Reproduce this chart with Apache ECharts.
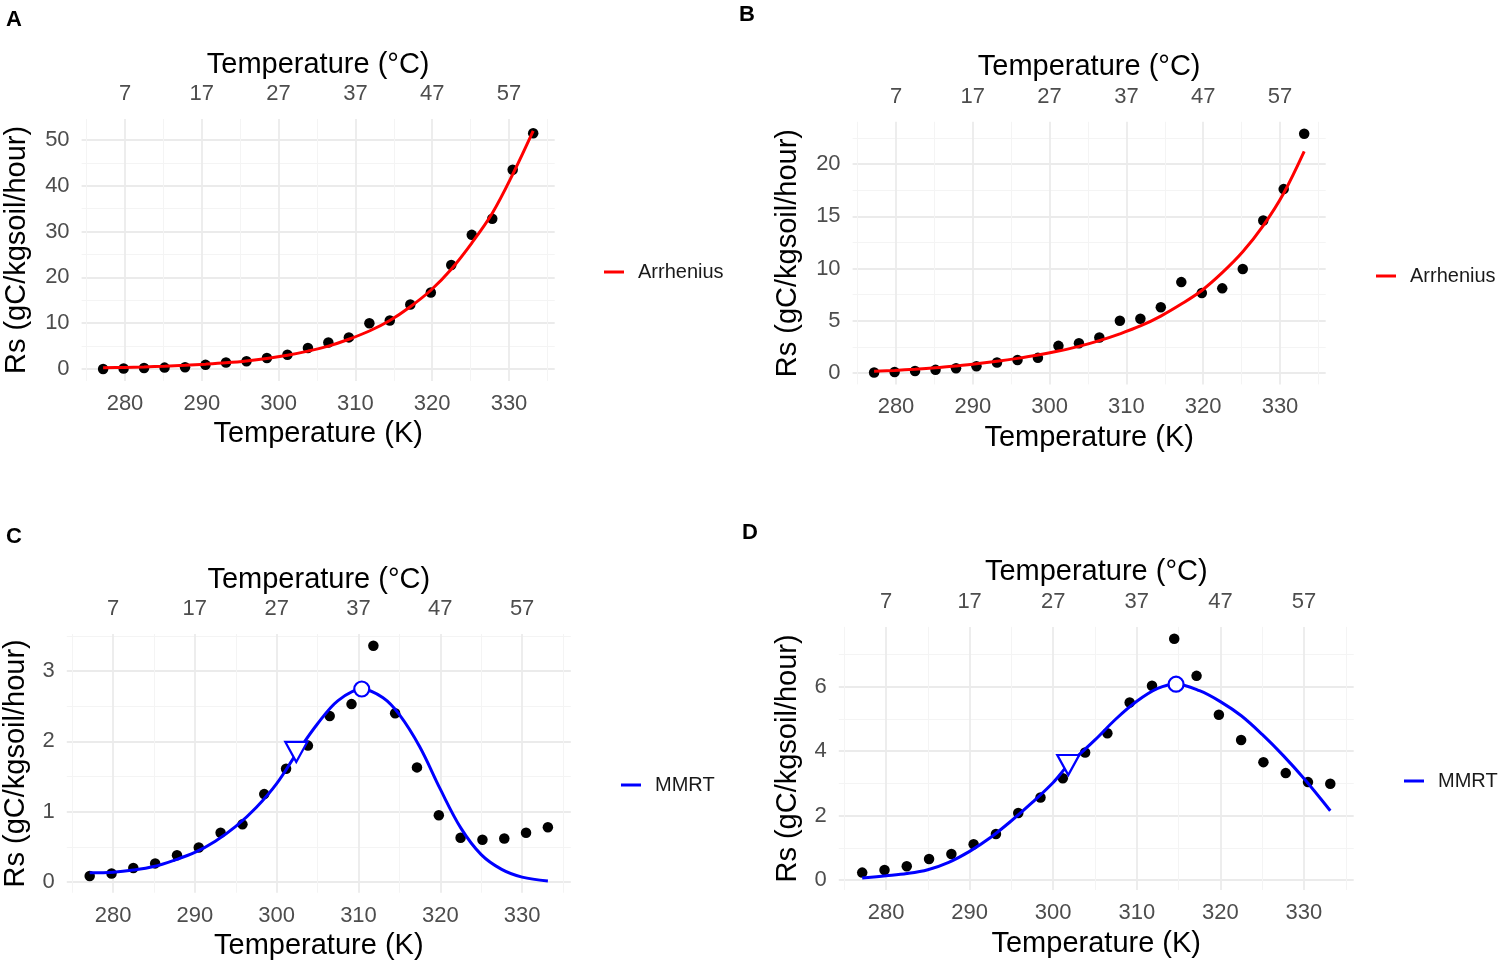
<!DOCTYPE html>
<html>
<head>
<meta charset="utf-8">
<script src="https://cdn.jsdelivr.net/npm/echarts@6/dist/echarts.min.js"></script>
<style>
html, body { margin: 0; background: #fff; }
#main { width: 1500px; height: 965px; }
</style>
</head>
<body>
<div id="main"></div>
<script>
// Measured temperatures (K)
var tempK = [277.15, 279.82, 282.48, 285.15, 287.82, 290.48, 293.15, 295.82, 298.48, 301.15, 303.82,
	306.48, 309.15, 311.82, 314.48, 317.15, 319.82, 322.48, 325.15, 327.82, 330.48, 333.15];

// Panel A: observed Rs and Arrhenius fit
var rsA = [0.0, 0.1, 0.2, 0.3, 0.4, 0.9, 1.4, 1.7, 2.4, 3.1, 4.6, 5.8, 6.9, 10.0, 10.6, 14.1, 16.7, 22.7, 29.3, 32.8, 43.5, 51.5];
var fitA = [0.25, 0.35, 0.45, 0.6, 0.8, 1.05, 1.35, 1.75, 2.3, 3.0, 3.9, 5.0, 6.5, 8.3, 10.6, 13.6, 17.2, 21.8, 27.5, 34.0, 42.5, 52.0];

// Panel B: observed Rs and Arrhenius fit
var rsB = [0.05, 0.1, 0.2, 0.3, 0.45, 0.65, 1.0, 1.25, 1.45, 2.6, 2.85, 3.4, 5.0, 5.2, 6.3, 8.7, 7.65, 8.1, 9.95, 14.6, 17.6, 22.9];
var fitB = [0.16, 0.25, 0.36, 0.5, 0.68, 0.88, 1.12, 1.4, 1.72, 2.1, 2.55, 3.1, 3.75, 4.5, 5.45, 6.6, 7.9, 9.6, 11.6, 14.1, 17.2, 21.2];

// Panel C: observed Rs and MMRT fit
var rsC = [0.085, 0.12, 0.2, 0.265, 0.38, 0.49, 0.7, 0.82, 1.25, 1.61, 1.94, 2.36, 2.53, 3.36, 2.4, 1.63, 0.95, 0.63, 0.6, 0.62, 0.7, 0.78];
var fitTempC = [277.15, 280, 282.5, 285, 287.5, 290, 292.5, 295, 297.5, 300, 302.5, 305, 307.5, 310.4, 313, 315, 317.5, 320, 322.5, 325, 327.5, 330, 333.15];
var fitC = [0.13, 0.14, 0.17, 0.22, 0.31, 0.42, 0.58, 0.79, 1.06, 1.4, 1.84, 2.25, 2.58, 2.745, 2.62, 2.38, 1.92, 1.32, 0.77, 0.39, 0.18, 0.07, 0.015];
var toptC = [310.4, 2.745];
var inflC = [302.4, 1.85];

// Panel D: observed Rs and MMRT fit
var rsD = [0.23, 0.31, 0.43, 0.65, 0.81, 1.11, 1.43, 2.08, 2.56, 3.16, 3.96, 4.56, 5.51, 6.03, 7.49, 6.34, 5.13, 4.35, 3.66, 3.32, 3.04, 2.99];
var fitTempD = [277.15, 280, 282.5, 285, 287.5, 290, 292.5, 295, 297.5, 300, 301.8, 305, 307.5, 310, 312.5, 314.7, 317.5, 320, 322.5, 325, 327.5, 330, 333.15];
var fitD = [0.06, 0.13, 0.2, 0.32, 0.55, 0.89, 1.32, 1.84, 2.41, 3.03, 3.57, 4.35, 5.0, 5.55, 5.95, 6.08, 5.88, 5.54, 5.1, 4.52, 3.87, 3.15, 2.15];
var toptD = [314.7, 6.08];
var inflD = [301.8, 3.57];

// Axis ticks
var kTicks = [280, 290, 300, 310, 320, 330];
var kMinorTicks = [275, 285, 295, 305, 315, 325, 335];
var celsiusTicks = [7, 17, 27, 37, 47, 57];
var yTicksA = [0, 10, 20, 30, 40, 50], yMinorA = [5, 15, 25, 35, 45];
var yTicksB = [0, 5, 10, 15, 20], yMinorB = [2.5, 7.5, 12.5, 17.5, 22.5];
var yTicksC = [0, 1, 2, 3], yMinorC = [0.5, 1.5, 2.5, 3.5];
var yTicksD = [0, 2, 4, 6], yMinorD = [1, 3, 5, 7];

var kMin = 274.35, kMax = 335.95;
var font = 'Liberation Sans';

function Pairs(xs, ys) {	// zip x and y arrays
	var out = [];
	for (var i = 0; i < xs.length; i++) out.push([xs[i], ys[i]]);
	return out;
}

var panels = [
	{ letter: 'A', rs: rsA, fitT: tempK, fit: fitA, fitName: 'Arrhenius', color: '#FF0000',
	  yMin: -2.6, yMax: 54.6, yTicks: yTicksA, yMinor: yMinorA,
	  grid: { left: 81.6, top: 119, width: 473.1, height: 261.9 }, yGap: 50,
	  legend: { left: 599, top: 257 }, letterPos: { left: 1, top: 4 } },
	{ letter: 'B', rs: rsB, fitT: tempK, fit: fitB, fitName: 'Arrhenius', color: '#FF0000',
	  yMin: -1.09, yMax: 24.04, yTicks: yTicksB, yMinor: yMinorB,
	  grid: { left: 852.6, top: 121.8, width: 473.1, height: 262.6 }, yGap: 50,
	  legend: { left: 1371, top: 261 }, letterPos: { left: 734, top: -1 } },
	{ letter: 'C', rs: rsC, fitT: fitTempC, fit: fitC, fitName: 'MMRT', color: '#0000FF',
	  yMin: -0.152, yMax: 3.527, yTicks: yTicksC, yMinor: yMinorC, topt: toptC, infl: inflC,
	  grid: { left: 66.8, top: 634, width: 504, height: 258.7 }, yGap: 36,
	  legend: { left: 616, top: 770 }, letterPos: { left: 1, top: 521 } },
	{ letter: 'D', rs: rsD, fitT: fitTempD, fit: fitD, fitName: 'MMRT', color: '#0000FF',
	  yMin: -0.31, yMax: 7.86, yTicks: yTicksD, yMinor: yMinorD, topt: toptD, infl: inflD,
	  grid: { left: 838.8, top: 626.9, width: 514.9, height: 263.1 }, yGap: 36,
	  legend: { left: 1399, top: 766 }, letterPos: { left: 737, top: 517 } }
];

var option = { animation: false, backgroundColor: '#fff', title: [], grid: [], xAxis: [], yAxis: [], series: [], legend: [] };
var majorLine = { show: true, lineStyle: { color: '#EBEBEB', width: 1.8 } };
var minorLine = { show: true, lineStyle: { color: '#F4F4F4', width: 1 } };
var titleStyle = { fontFamily: font, fontSize: 29, color: '#000' };
var tickStyle = { fontFamily: font, fontSize: 22, color: '#4D4D4D' };

panels.forEach(function(p, i) {
	option.title.push({ text: p.letter, left: p.letterPos.left, top: p.letterPos.top,
		textStyle: { fontFamily: font, fontSize: 22, fontWeight: 'bold', color: '#000' } });
	option.grid.push(Object.assign({}, p.grid, { containLabel: false }));

	// minor grid first, then major K axis, then top °C axis
	option.xAxis.push({ gridIndex: i, type: 'value', min: kMin, max: kMax, position: 'bottom',
		axisLine: { show: false }, axisTick: { show: false, customValues: kMinorTicks },
		axisLabel: { show: false }, splitLine: minorLine });
	option.xAxis.push({ gridIndex: i, type: 'value', min: kMin, max: kMax, position: 'bottom',
		name: 'Temperature (K)', nameLocation: 'middle', nameGap: 39, nameTextStyle: titleStyle,
		axisLine: { show: false }, axisTick: { show: false, customValues: kTicks },
		axisLabel: Object.assign({ customValues: kTicks, margin: 12 }, tickStyle),
		splitLine: majorLine });
	option.xAxis.push({ gridIndex: i, type: 'value', min: kMin - 273, max: kMax - 273, position: 'top',
		name: 'Temperature (°C)', nameLocation: 'middle', nameGap: 40, nameTextStyle: titleStyle,
		axisLine: { show: false }, axisTick: { show: false, customValues: celsiusTicks },
		axisLabel: Object.assign({ customValues: celsiusTicks, margin: 14 }, tickStyle),
		splitLine: { show: false } });

	option.yAxis.push({ gridIndex: i, type: 'value', min: p.yMin, max: p.yMax, position: 'left',
		axisLine: { show: false }, axisTick: { show: false, customValues: p.yMinor },
		axisLabel: { show: false }, splitLine: minorLine });
	option.yAxis.push({ gridIndex: i, type: 'value', min: p.yMin, max: p.yMax, position: 'left',
		name: 'Rs (gC/kgsoil/hour)', nameLocation: 'middle', nameGap: p.yGap, nameTextStyle: titleStyle,
		axisLine: { show: false }, axisTick: { show: false, customValues: p.yTicks },
		axisLabel: Object.assign({ customValues: p.yTicks, margin: 12 }, tickStyle),
		splitLine: majorLine });

	var xi = i * 3 + 1, yi = i * 2 + 1;
	option.series.push({ type: 'scatter', name: 'obs' + i, xAxisIndex: xi, yAxisIndex: yi,
		data: Pairs(tempK, p.rs), symbol: 'circle', symbolSize: 10.5,
		itemStyle: { color: '#000', opacity: 1 }, z: 2 });
	option.series.push({ type: 'line', name: p.fitName, xAxisIndex: xi, yAxisIndex: yi,
		data: Pairs(p.fitT, p.fit), showSymbol: false, smooth: 0.35,
		lineStyle: { color: p.color, width: 3 }, itemStyle: { color: p.color }, z: 3 });
	if (p.topt) {
		option.series.push({ type: 'scatter', name: 'infl' + i, xAxisIndex: xi, yAxisIndex: yi,
			data: [p.infl], symbol: 'triangle', symbolRotate: 180, symbolSize: [22, 20],
			itemStyle: { color: '#fff', borderColor: p.color, borderWidth: 2.2, opacity: 1 }, z: 4 });
		option.series.push({ type: 'scatter', name: 'topt' + i, xAxisIndex: xi, yAxisIndex: yi,
			data: [p.topt], symbol: 'circle', symbolSize: 15,
			itemStyle: { color: '#fff', borderColor: p.color, borderWidth: 2.2, opacity: 1 }, z: 4 });
	}
	option.legend.push({ left: p.legend.left, top: p.legend.top, orient: 'vertical',
		data: [p.fitName], icon: 'rect', itemWidth: 20, itemHeight: 3, selectedMode: false,
		textStyle: { fontFamily: font, fontSize: 20, color: '#1A1A1A', padding: [0, 0, 0, 9] } });
});

var chart = echarts.init(document.getElementById('main'), null, { renderer: 'canvas' });
chart.setOption(option);
</script>
</body>
</html>
